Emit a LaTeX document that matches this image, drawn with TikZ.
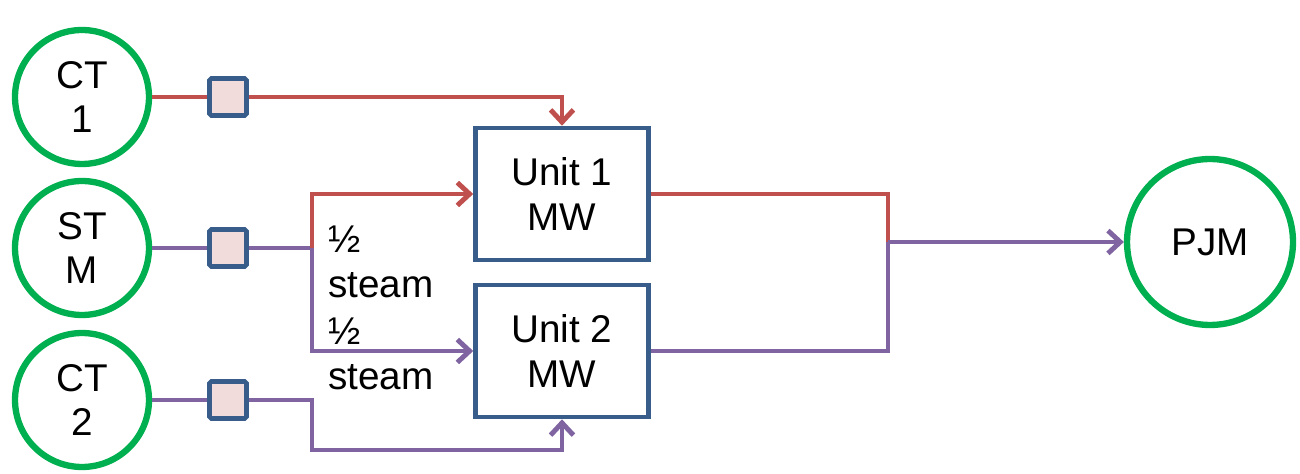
\documentclass[tikz,border=0pt]{standalone}
\usepackage{fontspec}
\setmainfont{Liberation Sans}
\usetikzlibrary{arrows.meta, positioning}
\definecolor{plantgreen}{RGB}{0, 176, 80}
\definecolor{feedred}{RGB}{192, 80, 77}
\definecolor{feedpurple}{RGB}{128, 100, 162}
\definecolor{boxblue}{RGB}{56, 93, 138}
\definecolor{breakerpink}{RGB}{242, 220, 219}

\begin{document}
\begin{tikzpicture}[
    x=0.02cm, y=0.02cm,
    font=\fontsize{22}{25.5}\selectfont,
    plant/.style={circle, draw=plantgreen, line width=3.6pt, minimum size=2.68cm, align=center, inner sep=0pt},
    breaker/.style={rectangle, rounded corners=1pt, draw=boxblue, fill=breakerpink, line width=2.6pt, minimum size=0.74cm, inner sep=0pt},
    unit/.style={rectangle, draw=boxblue, line width=2.6pt, minimum width=3.46cm, minimum height=2.64cm, align=center},
    redline/.style={draw=feedred, line width=2.8pt},
    purpleline/.style={draw=feedpurple, line width=2.8pt},
    arrow/.style={-{Straight Barb[length=7pt, width=13pt]}}
]
\useasboundingbox (0,0) rectangle (1300,473);

\node (ct1) [plant] at (82,376) {CT\\1};
\node (stm) [plant] at (82,225) {ST\\M};
\node (ct2) [plant] at (82,73) {CT\\2};
\node (pjm) [plant, minimum size=3.32cm] at (1210,231) {PJM};

\node (brk1) [breaker] at (228,376) {};
\node (brk2) [breaker] at (228,225) {};
\node (brk3) [breaker] at (228,73) {};

\node (unit1) [unit] at (562,279) {Unit 1\\MW};
\node (unit2) [unit] at (562,122) {Unit 2\\MW};

\coordinate (split) at (312,225);
\coordinate (low) at (312,23);
\coordinate (merge) at (888,231);

\node (half1) [anchor=west, align=left, inner sep=0pt] at (328,211) {½\\steam};
\node (half2) [anchor=west, align=left, inner sep=0pt] at (328,119) {½\\steam};

% CT 1 feed
\draw [redline] (ct1) -- (brk1);
\draw [redline, arrow] (brk1) -| (unit1.north);

% steam turbine split
\draw [purpleline] (stm) -- (brk2) -- (split);
\draw [redline, arrow] (split) |- (unit1.west);
\draw [purpleline, arrow] (split) |- (unit2.west);

% CT 2 feed
\draw [purpleline] (ct2) -- (brk3);
\draw [purpleline, arrow] (brk3) -| (low) -| (unit2.south);

% outputs to grid
\draw [redline] (unit1.east) -| (merge);
\draw [purpleline] (unit2.east) -| (merge);
\draw [purpleline, arrow] (merge) -- (pjm);

\end{tikzpicture}
\end{document}
